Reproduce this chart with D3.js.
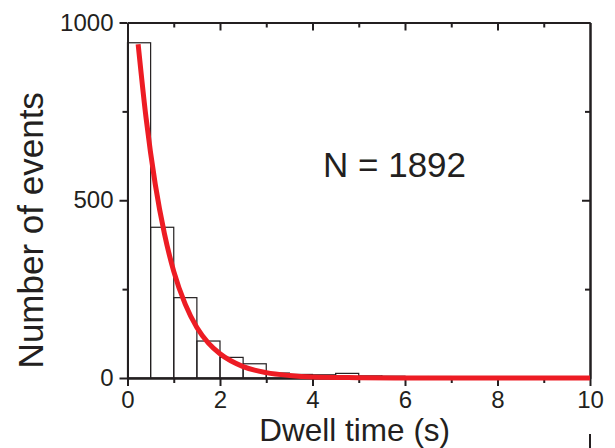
<!DOCTYPE html>
<html>
<head>
<meta charset="utf-8">
<script src="https://cdn.jsdelivr.net/npm/d3@7"></script>
<style>
  body { margin: 0; background: #fff; }
  text { font-family: "Liberation Sans", Arial, Helvetica, sans-serif; fill: #231f20; }
</style>
</head>
<body>
<div id="container"></div>
<script>
/**
 * CONSTANTS AND GLOBALS
 * */
const width = 615,
  height = 448,
  margin = { top: 22.5, bottom: 70, left: 127.5, right: 25 };

// histogram bins (left edge, s) and counts
const binStarts = [0, 0.5, 1, 1.5, 2, 2.5, 3, 3.5, 4, 4.5, 5, 5.5, 6, 6.5, 7, 7.5, 8, 8.5, 9, 9.5];
const binCounts = [943, 424, 226, 104, 58, 40, 14, 10, 9, 13, 6, 5, 4, 4, 3, 3, 2, 2, 1, 1];
const binWidth = 0.5;

// exponential fit
const fitX = [0.23, 0.4, 0.6, 0.8, 1.0, 1.25, 1.5, 1.75, 2.0, 2.5, 3.0, 3.5, 4, 5, 6, 8, 10];
const fitY = [939, 733, 545, 405, 300, 207, 142, 98, 68, 32, 15, 7, 3, 1, 0, 0, 0];

const xMajor = [0, 2, 4, 6, 8, 10];
const xMinor = [1, 3, 5, 7, 9];
const yMajor = [0, 500, 1000];
const yMinor = [250, 750];

const ink = "#231f20";

const svg = d3.select("#container")
  .append("svg")
  .attr("width", width)
  .attr("height", height);

const xScale = d3.scaleLinear().domain([0, 10]).range([margin.left, width - margin.right]);
const yScale = d3.scaleLinear().domain([0, 1000]).range([height - margin.bottom, margin.top]);

// bars
svg.append("g")
  .selectAll("rect")
  .data(binStarts.map((x, i) => ({ x, n: binCounts[i] })))
  .join("rect")
  .attr("x", d => xScale(d.x))
  .attr("y", d => yScale(d.n))
  .attr("width", d => xScale(d.x + binWidth) - xScale(d.x))
  .attr("height", d => yScale(0) - yScale(d.n))
  .attr("fill", "none")
  .attr("stroke", ink)
  .attr("stroke-width", 1.2);

// axes
function styleAxis(g) {
  g.select(".domain").attr("stroke", ink).attr("stroke-width", 2);
  g.selectAll(".tick line").attr("stroke", ink).attr("stroke-width", 2);
  g.selectAll(".tick text").attr("fill", ink).style("font-size", "24px");
}

const yBottom = height - margin.bottom,
  yTop = margin.top,
  xLeft = margin.left,
  xRight = width - margin.right;

svg.append("g").attr("transform", `translate(0,${yBottom})`)
  .call(d3.axisBottom(xScale).tickValues(xMajor).tickSize(8).tickPadding(5).tickFormat(d3.format("d")).tickSizeOuter(0))
  .call(styleAxis);
svg.append("g").attr("transform", `translate(0,${yBottom})`)
  .call(d3.axisBottom(xScale).tickValues(xMinor).tickSize(5).tickFormat("").tickSizeOuter(0))
  .call(styleAxis);

svg.append("g").attr("transform", `translate(${xLeft},0)`)
  .call(d3.axisLeft(yScale).tickValues(yMajor).tickSize(8).tickPadding(6).tickFormat(d3.format("d")).tickSizeOuter(0))
  .call(styleAxis);
svg.append("g").attr("transform", `translate(${xLeft},0)`)
  .call(d3.axisLeft(yScale).tickValues(yMinor).tickSize(5).tickFormat("").tickSizeOuter(0))
  .call(styleAxis);

// top and right: ticks pointing inward, no labels
svg.append("g").attr("transform", `translate(0,${yTop})`)
  .call(d3.axisTop(xScale).tickValues(xMajor.slice(1, -1)).tickSize(-8).tickFormat("").tickSizeOuter(0))
  .call(styleAxis);
svg.append("g").attr("transform", `translate(0,${yTop})`)
  .call(d3.axisTop(xScale).tickValues(xMinor).tickSize(-5).tickFormat("").tickSizeOuter(0))
  .call(styleAxis);
svg.append("g").attr("transform", `translate(${xRight},0)`)
  .call(d3.axisRight(yScale).tickValues([500]).tickSize(-8).tickFormat("").tickSizeOuter(0))
  .call(styleAxis);
svg.append("g").attr("transform", `translate(${xRight},0)`)
  .call(d3.axisRight(yScale).tickValues(yMinor).tickSize(-5).tickFormat("").tickSizeOuter(0))
  .call(styleAxis);

// fit curve
const line = d3.line()
  .x(d => xScale(d[0]))
  .y(d => yScale(d[1]))
  .curve(d3.curveMonotoneX);

svg.append("path")
  .datum(fitX.map((x, i) => [x, fitY[i]]))
  .attr("d", line)
  .attr("fill", "none")
  .attr("stroke", "#ed1c24")
  .attr("stroke-width", 5)
  .attr("stroke-linecap", "butt");

// titles
svg.append("text")
  .attr("transform", `translate(43,${(yTop + yBottom) / 2 + 30}) rotate(-90)`)
  .attr("text-anchor", "middle")
  .style("font-size", "35px")
  .text("Number of events");

svg.append("text")
  .attr("x", (xLeft + xRight) / 2 - 4)
  .attr("y", 441)
  .attr("text-anchor", "middle")
  .style("font-size", "31.5px")
  .text("Dwell time (s)");

svg.append("text")
  .attr("x", 323)
  .attr("y", 177)
  .style("font-size", "35px")
  .text("N = 1892");

// stray tick from the panel below
svg.append("line")
  .attr("x1", xRight).attr("x2", xRight)
  .attr("y1", 434).attr("y2", height)
  .attr("stroke", ink)
  .attr("stroke-width", 2);
</script>
</body>
</html>
